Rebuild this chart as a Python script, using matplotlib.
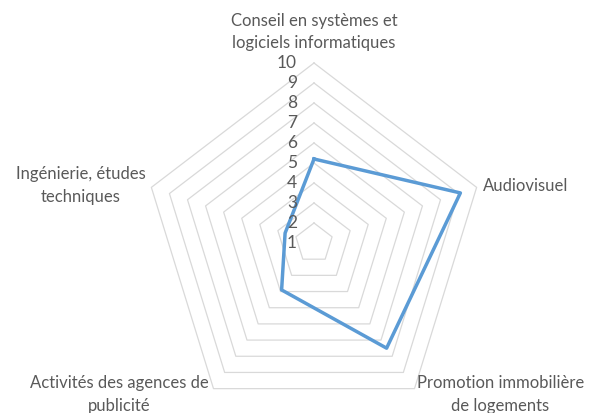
import numpy as np
import matplotlib
matplotlib.use("Agg")
import matplotlib.pyplot as plt

# Data (axis runs from 1 to 10)
categories = [
    "Conseil en systèmes et\nlogiciels informatiques",
    "Audiovisuel",
    "Promotion immobilière\nde logements",
    "Activités des agences de\npublicité",
    "Ingénierie, études\ntechniques",
]
values = [5.2, 9.1, 7.5, 3.9, 2.6]
tick_values = [1, 2, 3, 4, 5, 6, 7, 8, 9, 10]

TEXT_COLOR = "#595959"
GRID_COLOR = "#d9d9d9"
LINE_COLOR = "#5B9BD5"

plt.rcParams["font.family"] = ["Lato", "DejaVu Sans"]

W, H = 592, 413
fig = plt.figure(figsize=(W / 100, H / 100), dpi=100)

# Center of the radar at (314, 243) px from the top-left, radius 171 x 180 px
cx, cy, rx, ry = 314, 243, 171, 180
ax = fig.add_axes([(cx - rx) / W, (H - cy - ry) / H, 2 * rx / W, 2 * ry / H],
                  projection="polar")
ax.set_aspect("auto")
ax.set_theta_offset(np.pi / 2)
ax.set_theta_direction(-1)
ax.set_ylim(1, 10)
ax.grid(False)
ax.set_xticks([])
ax.set_yticks([])
ax.spines["polar"].set_visible(False)
ax.patch.set_visible(False)

n = len(categories)
angles = np.linspace(0, 2 * np.pi, n, endpoint=False)
closed = np.append(angles, angles[0])

# Pentagon gridlines
for k in tick_values[1:]:
    ax.plot(closed, [k] * (n + 1), color=GRID_COLOR, lw=0.9, clip_on=False, zorder=1)

# Series
ax.plot(closed, values + values[:1], color=LINE_COLOR, lw=2.5, clip_on=False,
        zorder=3, solid_joinstyle="round")

# Value axis labels along the top spoke
for k in tick_values:
    ax.annotate(str(k), xy=(0, k), xytext=(-17, 0), textcoords="offset pixels",
                ha="right", va="center", fontsize=12.5, color=TEXT_COLOR,
                annotation_clip=False)

# Category labels: (offset in px, ha)
label_style = [
    ((0, 31), "center"),
    ((6, 1), "left"),
    ((2, -6), "left"),
    ((-5, -6), "right"),
    ((-6, 2), "right"),
]
for ang, lab, (off, ha) in zip(angles, categories, label_style):
    ax.annotate(lab, xy=(ang, 10), xytext=off, textcoords="offset pixels",
                ha=ha, va="center", multialignment="center", fontsize=12,
                color=TEXT_COLOR, linespacing=1.5, annotation_clip=False)

fig.savefig("out.png", dpi=100)
